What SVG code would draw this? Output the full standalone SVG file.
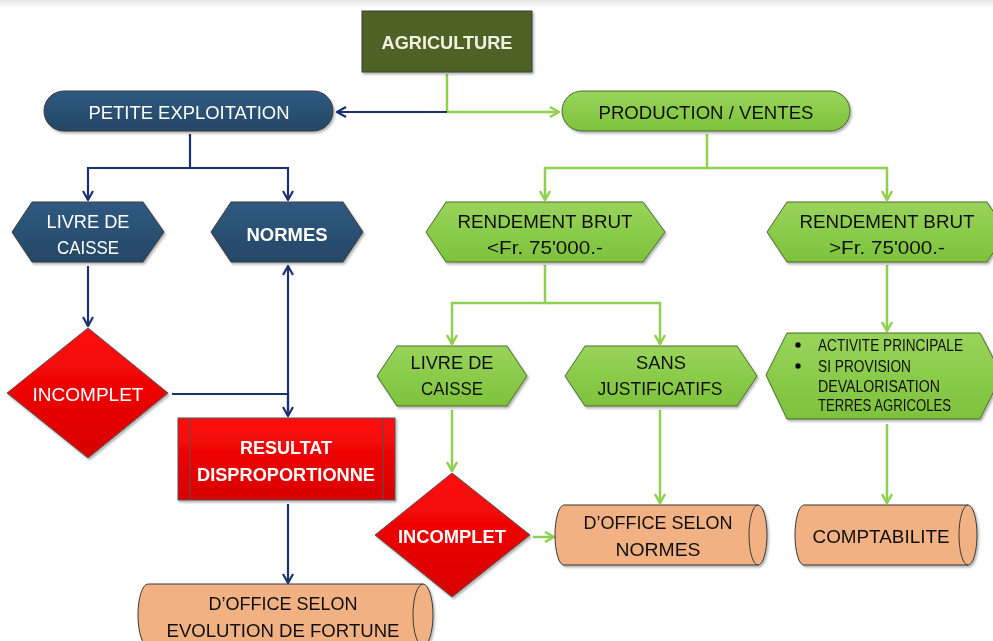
<svg xmlns="http://www.w3.org/2000/svg" width="993" height="641" viewBox="0 0 993 641">
<defs>
<style>
text{font-family:"Liberation Sans","Noto Sans",sans-serif;text-anchor:middle;font-size:18.5px}
.w{fill:#ffffff}
.k{fill:#111111}
.b{font-weight:bold}
.s{font-size:16px;text-anchor:start}
.blue{fill:url(#gBlue);stroke:#3a3a3a;stroke-width:1}
.green{fill:url(#gGreen);stroke:#4a6a2a;stroke-width:1}
.red{fill:url(#gRed);stroke:#555555;stroke-width:1}
.cyl{fill:#f1b183;stroke:#3a3a3a;stroke-width:1}
.lb{fill:none;stroke:#1b3170;stroke-width:2.2}
.lg{fill:none;stroke:#8fd050;stroke-width:2.5}
</style>
<linearGradient id="gBlue" x1="0" y1="0" x2="0" y2="1"><stop offset="0" stop-color="#2f5a80"/><stop offset="1" stop-color="#244766"/></linearGradient>
<linearGradient id="gGreen" x1="0" y1="0" x2="0" y2="1"><stop offset="0" stop-color="#98d45a"/><stop offset="1" stop-color="#7ec23c"/></linearGradient>
<linearGradient id="gRed" x1="0" y1="0" x2="0" y2="1"><stop offset="0" stop-color="#ff0a0a"/><stop offset="1" stop-color="#d80000"/></linearGradient>
<linearGradient id="gTop" x1="0" y1="0" x2="0" y2="1"><stop offset="0" stop-color="#e6e6e6"/><stop offset="1" stop-color="#ffffff"/></linearGradient>
<filter id="sh" x="-10%" y="-10%" width="120%" height="130%"><feDropShadow dx="1.5" dy="2" stdDeviation="1.2" flood-color="#000" flood-opacity="0.3"/></filter>
<marker id="ab" viewBox="0 0 12 12" refX="11" refY="6" markerWidth="12" markerHeight="12" markerUnits="userSpaceOnUse" orient="auto"><path d="M2,1 L11,6 L2,11" fill="none" stroke="#1b3170" stroke-width="2.2"/></marker>
<marker id="ag" viewBox="0 0 12 12" refX="11" refY="6" markerWidth="12" markerHeight="12" markerUnits="userSpaceOnUse" orient="auto"><path d="M2,1 L11,6 L2,11" fill="none" stroke="#8fd050" stroke-width="2.5"/></marker>
</defs>
<rect x="0" y="0" width="993" height="641" fill="#ffffff"/>
<rect x="0" y="0" width="993" height="8" fill="url(#gTop)"/>

<g id="connectors">
<path class="lg" d="M447,74 V112 H559" marker-end="url(#ag)"/>
<path class="lb" d="M447,112 H337" marker-end="url(#ab)"/>
<path class="lb" d="M190,134 V168 H88 V200" marker-end="url(#ab)"/>
<path class="lb" d="M190,168 H288 V200" marker-end="url(#ab)"/>
<path class="lb" d="M88,266 V326" marker-end="url(#ab)"/>
<path class="lb" d="M288,412 V266" marker-end="url(#ab)"/>
<path class="lb" d="M172,394 H288 V416" marker-end="url(#ab)"/>
<path class="lb" d="M288,504 V583" marker-end="url(#ab)"/>
<path class="lg" d="M707,134 V168 H545 V200" marker-end="url(#ag)"/>
<path class="lg" d="M707,168 H887 V200" marker-end="url(#ag)"/>
<path class="lg" d="M545,265 V303 H452 V344" marker-end="url(#ag)"/>
<path class="lg" d="M545,303 H660 V344" marker-end="url(#ag)"/>
<path class="lg" d="M887,265 V331" marker-end="url(#ag)"/>
<path class="lg" d="M452,410 V471" marker-end="url(#ag)"/>
<path class="lg" d="M660,410 V503" marker-end="url(#ag)"/>
<path class="lg" d="M887,424 V503" marker-end="url(#ag)"/>
<path class="lg" d="M533,537 H554" marker-end="url(#ag)"/>
</g>

<g id="agriculture" filter="url(#sh)">
<rect x="362" y="11" width="170" height="61" fill="#4f6228" stroke="#3a3a3a" stroke-width="1"/>
<text x="447" y="49" class="b" fill="#f4f0e0" font-size="17.5" textLength="131" lengthAdjust="spacingAndGlyphs">AGRICULTURE</text>
</g>

<g id="petite-exploitation" filter="url(#sh)">
<rect x="44" y="91" width="289" height="40" rx="20" class="blue"/>
<text x="189" y="119" class="w" textLength="201" lengthAdjust="spacingAndGlyphs">PETITE EXPLOITATION</text>
</g>

<g id="production-ventes" filter="url(#sh)">
<rect x="562" y="91" width="288" height="40" rx="20" class="green"/>
<text x="706" y="119" class="k" textLength="215" lengthAdjust="spacingAndGlyphs">PRODUCTION / VENTES</text>
</g>

<g id="livre-caisse-blue" filter="url(#sh)">
<polygon points="12,232 32,202 143,202 164,232 143,262 32,262" class="blue"/>
<text x="88" y="228" class="w" textLength="83" lengthAdjust="spacingAndGlyphs">LIVRE DE</text>
<text x="88" y="254" class="w" textLength="62" lengthAdjust="spacingAndGlyphs">CAISSE</text>
</g>

<g id="normes" filter="url(#sh)">
<polygon points="211,232 231,202 343,202 363,232 343,262 231,262" class="blue"/>
<text x="287" y="241" class="w b" font-size="18" textLength="81" lengthAdjust="spacingAndGlyphs">NORMES</text>
</g>

<g id="rendement-inf" filter="url(#sh)">
<polygon points="426,232 446,202 643,202 665,232 643,262 446,262" class="green"/>
<text x="545" y="228" class="k" textLength="175" lengthAdjust="spacingAndGlyphs">RENDEMENT BRUT</text>
<text x="545" y="254" class="k" textLength="116" lengthAdjust="spacingAndGlyphs">&lt;Fr. 75'000.-</text>
</g>

<g id="rendement-sup" filter="url(#sh)">
<polygon points="767,232 787,202 987,202 1007,232 987,262 787,262" class="green"/>
<text x="887" y="228" class="k" textLength="175" lengthAdjust="spacingAndGlyphs">RENDEMENT BRUT</text>
<text x="887" y="254" class="k" textLength="116" lengthAdjust="spacingAndGlyphs">&gt;Fr. 75'000.-</text>
</g>

<g id="incomplet-left" filter="url(#sh)">
<polygon points="88,328 168,393 88,458 7,393" class="red"/>
<text x="88" y="401" class="w" textLength="111" lengthAdjust="spacingAndGlyphs">INCOMPLET</text>
</g>

<g id="resultat" filter="url(#sh)">
<rect x="178" y="418" width="217" height="82" class="red"/>
<line x1="190" y1="418" x2="190" y2="500" stroke="#555" stroke-width="1"/>
<line x1="383" y1="418" x2="383" y2="500" stroke="#555" stroke-width="1"/>
<text x="286" y="454" class="w b" font-size="17" textLength="92" lengthAdjust="spacingAndGlyphs">RESULTAT</text>
<text x="286" y="481" class="w b" font-size="17" textLength="178" lengthAdjust="spacingAndGlyphs">DISPROPORTIONNE</text>
</g>

<g id="office-fortune" filter="url(#sh)">
<path class="cyl" d="M148,584 H423 A10,31 0 0 1 423,646 H148 A10,31 0 0 1 148,584 Z"/>
<path d="M423,584 A10,31 0 0 0 423,646" fill="none" stroke="#3a3a3a" stroke-width="1"/>
<text x="283" y="610" class="k" textLength="149" lengthAdjust="spacingAndGlyphs">D’OFFICE SELON</text>
<text x="283" y="637" class="k" textLength="233" lengthAdjust="spacingAndGlyphs">EVOLUTION DE FORTUNE</text>
</g>

<g id="livre-caisse-green" filter="url(#sh)">
<polygon points="377,376 397,346 507,346 527,376 507,406 397,406" class="green"/>
<text x="452" y="369" class="k" textLength="83" lengthAdjust="spacingAndGlyphs">LIVRE DE</text>
<text x="452" y="395" class="k" textLength="62" lengthAdjust="spacingAndGlyphs">CAISSE</text>
</g>

<g id="sans-justificatifs" filter="url(#sh)">
<polygon points="565,376 585,346 737,346 757,376 737,406 585,406" class="green"/>
<text x="661" y="369" class="k" textLength="50" lengthAdjust="spacingAndGlyphs">SANS</text>
<text x="660" y="395" class="k" textLength="125" lengthAdjust="spacingAndGlyphs">JUSTIFICATIFS</text>
</g>

<g id="activite" filter="url(#sh)">
<polygon points="766,375 787,333 980,333 1002,375 980,419 787,419" class="green"/>
<circle cx="798" cy="345" r="2.7" fill="#111"/>
<circle cx="798" cy="366" r="2.7" fill="#111"/>
<text x="818" y="351" class="k s" textLength="145" lengthAdjust="spacingAndGlyphs">ACTIVITE PRINCIPALE</text>
<text x="818" y="372" class="k s" textLength="93" lengthAdjust="spacingAndGlyphs">SI PROVISION</text>
<text x="818" y="392" class="k s" textLength="122" lengthAdjust="spacingAndGlyphs">DEVALORISATION</text>
<text x="818" y="411" class="k s" textLength="133" lengthAdjust="spacingAndGlyphs">TERRES AGRICOLES</text>
</g>

<g id="incomplet-right" filter="url(#sh)">
<polygon points="452,473 530,535 452,597 375,535" class="red"/>
<text x="452" y="543" class="w b" font-size="17" textLength="108" lengthAdjust="spacingAndGlyphs">INCOMPLET</text>
</g>

<g id="office-normes" filter="url(#sh)">
<path class="cyl" d="M564,505 H758 A9,30 0 0 1 758,565 H564 A9,30 0 0 1 564,505 Z"/>
<path d="M758,505 A9,30 0 0 0 758,565" fill="none" stroke="#3a3a3a" stroke-width="1"/>
<text x="658" y="529" class="k" textLength="149" lengthAdjust="spacingAndGlyphs">D’OFFICE SELON</text>
<text x="658" y="556" class="k" textLength="85" lengthAdjust="spacingAndGlyphs">NORMES</text>
</g>

<g id="comptabilite" filter="url(#sh)">
<path class="cyl" d="M804,505 H968 A9,30 0 0 1 968,565 H804 A9,30 0 0 1 804,505 Z"/>
<path d="M968,505 A9,30 0 0 0 968,565" fill="none" stroke="#3a3a3a" stroke-width="1"/>
<text x="881" y="543" class="k" textLength="137" lengthAdjust="spacingAndGlyphs">COMPTABILITE</text>
</g>
</svg>
